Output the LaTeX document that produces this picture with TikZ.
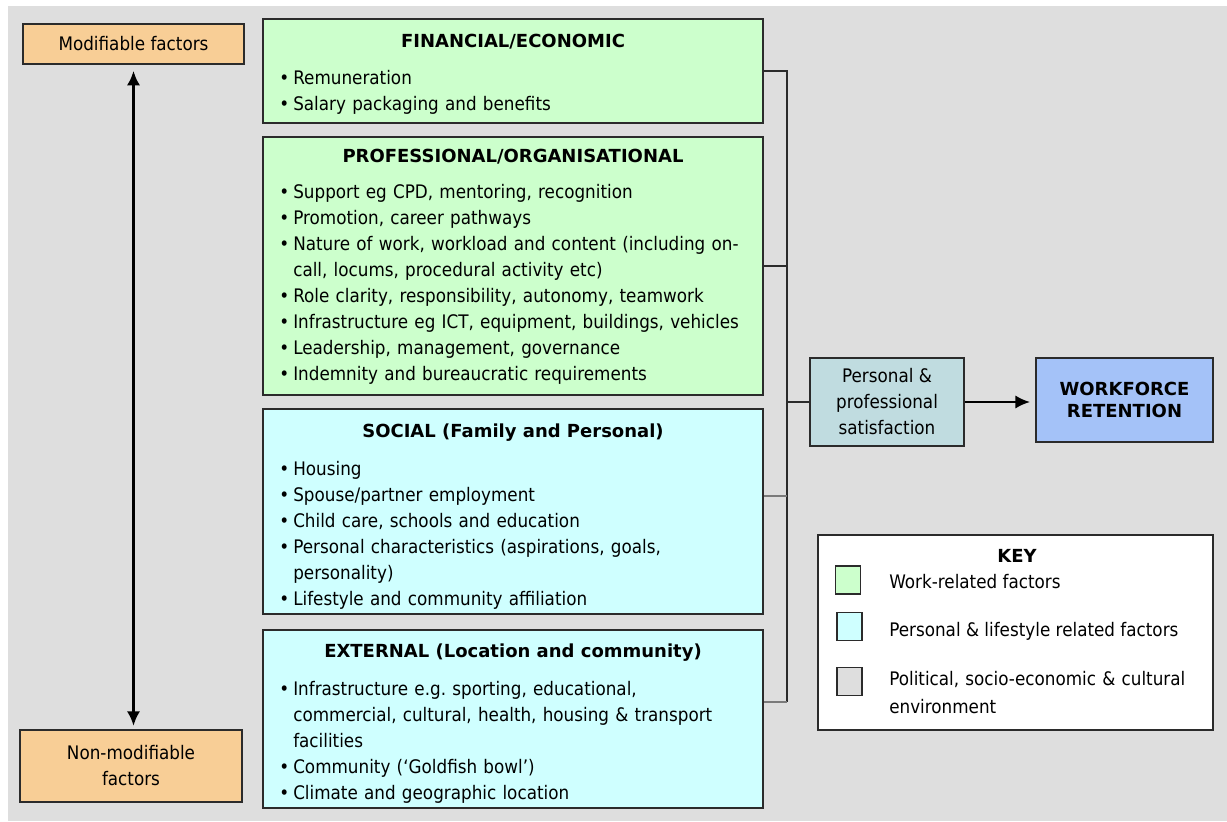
\documentclass[tikz,border=0pt]{standalone}
\usepackage{fontspec}
\setmainfont{DejaVu Sans}[FakeStretch=0.9]
\newfontfamily\headfont{DejaVu Sans}
\usetikzlibrary{arrows.meta,positioning}

\definecolor{bgcol}{HTML}{DEDEDE}
\definecolor{edge}{HTML}{2B2B2B}
\definecolor{stubcol}{HTML}{7A7A7A}
\definecolor{workcol}{HTML}{CCFFCC}
\definecolor{lifecol}{HTML}{CFFFFF}
\definecolor{tancol}{HTML}{F8CE96}
\definecolor{satcol}{HTML}{C0DCE0}
\definecolor{retcol}{HTML}{A4C2F8}

% one bullet line, wrapped lines hang under the text
\newcommand{\bitem}[1]{\hangindent=10.5pt\hangafter=1\noindent\makebox[10.5pt][l]{\textbullet}#1\par}

\begin{document}
\frenchspacing
\begin{tikzpicture}[x=0.75pt,y=-0.75pt,>={Latex[length=11pt,width=10pt]},
    every node/.style={font=\fontsize{14}{19.5}\selectfont,inner sep=0pt},
    box/.style={draw=edge,line width=1.1pt,minimum width=375pt},
    head/.style={font=\headfont\bfseries\fontsize{13.5}{19.5}\selectfont,anchor=base},
    list/.style={anchor=base west,text width=380pt},
    swatch/.style={draw=edge,line width=1.1pt,minimum width=18.75pt,minimum height=21pt},
    keytxt/.style={anchor=base west},
    bus/.style={draw=edge,line width=1pt}]
  \useasboundingbox (0,0) rectangle (1227,821);
  \fill[bgcol] (8,6) rectangle (1227,821);

  % modifiable -- non-modifiable scale
  \node[box,fill=tancol,minimum width=165.75pt,minimum height=30pt] (mod) at (133.5,44) {Modifiable factors};
  \node[box,fill=tancol,minimum width=166.5pt,minimum height=54pt,align=center] (nonmod) at (131,766) {Non-modifiable\\factors};
  \draw[<->,line width=2.2pt,shorten <=4.5pt,shorten >=2.5pt] (mod.south) -- (mod.south |- nonmod.north);

  % factor groups
  \node[box,fill=workcol,minimum height=78pt] (fin) at (513,71) {};
  \node[head] (finhd) at (513,47) {FINANCIAL/ECONOMIC};
  \node[list] (finls) at (279,84) {\bitem{Remuneration}
    \bitem{Salary packaging and benefits}};

  \node[box,fill=workcol,minimum height=193.5pt] (pro) at (513,266) {};
  \node[head] (prohd) at (513,162) {PROFESSIONAL/ORGANISATIONAL};
  \node[list] (prols) at (279,198) {\bitem{Support eg CPD, mentoring, recognition}
    \bitem{Promotion, career pathways}
    \bitem{Nature of work, workload and content (including on-\newline call, locums, procedural activity etc)}
    \bitem{Role clarity, responsibility, autonomy, teamwork}
    \bitem{Infrastructure eg ICT, equipment, buildings, vehicles}
    \bitem{Leadership, management, governance}
    \bitem{Indemnity and bureaucratic requirements}};

  \node[box,fill=lifecol,minimum height=153.75pt] (soc) at (513,511.5) {};
  \node[head] (sochd) at (513,437) {SOCIAL (Family and Personal)};
  \node[list] (socls) at (279,475) {\bitem{Housing}
    \bitem{Spouse/partner employment}
    \bitem{Child care, schools and education}
    \bitem{Personal characteristics (aspirations, goals,\newline personality)}
    \bitem{Lifestyle and community affiliation}};

  \node[box,fill=lifecol,minimum height=133.5pt] (ext) at (513,719) {};
  \node[head] (exthd) at (513,657) {EXTERNAL (Location and community)};
  \node[list] (extls) at (279,695) {\bitem{Infrastructure e.g. sporting, educational,\newline commercial, cultural, health, housing \& transport\newline facilities}
    \bitem{Community (‘Goldfish bowl’)}
    \bitem{Climate and geographic location}};

  % joining bracket
  \coordinate (jtop) at (787,71);
  \coordinate (jsoc) at (787,496);
  \coordinate (jbot) at (787,702);
  \draw[bus] (fin.east) -- (jtop) -- (jbot);
  \draw[bus] (pro.east) -- (pro.east -| jtop);
  \draw[bus,draw=stubcol] (jsoc) -- (soc.east |- jsoc);
  \draw[bus,draw=stubcol] (jbot) -- (ext.east |- jbot);

  % outcome
  \node[box,fill=satcol,minimum width=115.5pt,minimum height=66pt,align=center] (sat) at (887,402) {Personal \&\\professional\\satisfaction};
  \node[box,fill=retcol,minimum width=132.75pt,minimum height=63pt,align=center,
    font=\headfont\bfseries\fontsize{13.5}{17}\selectfont] (ret) at (1124.5,400) {WORKFORCE\\RETENTION};
  \draw[bus] (jtop |- sat) -- (sat.west);
  \draw[->,line width=1.5pt,shorten >=4pt] (sat.east) -- (sat.east -| ret.west);

  % key
  \node[box,fill=white,minimum width=296.25pt,minimum height=146.25pt] (key) at (1015.5,632.5) {};
  \node[head] (keyhd) at (1017,562) {KEY};
  \node[swatch,fill=workcol] (sw1) at (848,580) {};
  \node[swatch,fill=lifecol] (sw2) at (849.5,626.5) {};
  \node[swatch,fill=bgcol] (sw3) at (849.5,681.5) {};
  \node[keytxt] (kt1) at (889,588) {Work-related factors};
  \node[keytxt] (kt2) at (889,636) {Personal \& lifestyle related factors};
  \node[keytxt,text width=240pt,font=\fontsize{14}{21}\selectfont] (kt3) at (889,685) {Political, socio-economic \& cultural\newline environment};
\end{tikzpicture}
\end{document}
